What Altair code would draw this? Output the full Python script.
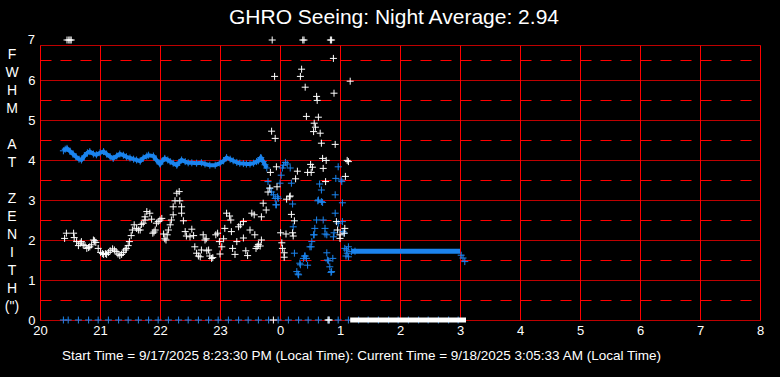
import altair as alt
import pandas as pd

# ---- data (hours; values after midnight are +24) ----
white_x = [20.41, 20.44, 20.56, 20.57, 20.61, 20.64, 20.67, 20.69, 20.72, 20.75, 20.78, 20.81, 20.83,
           20.86, 20.89, 20.91, 20.93, 20.97, 21.01, 21.04, 21.06, 21.09, 21.11, 21.14, 21.17, 21.21,
           21.24, 21.27, 21.30, 21.33, 21.36, 21.39, 21.42, 21.44, 21.47, 21.49, 21.52, 21.54, 21.57,
           21.61, 21.64, 21.67, 21.69, 21.72, 21.75, 21.75, 21.78, 21.83, 21.86, 21.88, 21.90, 21.92,
           21.94, 21.97, 22.00, 22.03, 22.06, 22.08, 22.10, 22.12, 22.14, 22.17, 22.19, 22.22, 22.22,
           22.25, 22.28, 22.32, 22.33, 22.36, 22.36, 22.39, 22.42, 22.44, 22.50, 22.53, 22.56, 22.58,
           22.61, 22.64, 22.67, 22.69, 22.72, 22.75, 22.77, 22.78, 22.81, 22.83, 22.86, 22.88, 22.93,
           22.96, 22.99, 23.00, 23.03, 23.06, 23.08, 23.11, 23.16, 23.18, 23.19, 23.21, 23.25, 23.28,
           23.31, 23.34, 23.39, 23.39, 23.43, 23.46, 23.50, 23.53, 23.57, 23.58, 23.60, 23.62, 23.64,
           23.67, 23.69, 23.69, 23.72, 23.77, 23.80, 23.83, 23.84, 23.86, 23.91, 23.92, 23.94, 23.95,
           24.01, 24.03, 24.04, 24.07, 24.07, 24.10, 24.11, 24.16, 24.17, 24.19, 24.21, 24.22, 24.24,
           24.26, 24.29, 24.34, 24.36, 24.42, 24.44, 24.46, 24.51, 24.52, 24.54, 24.56, 24.57, 24.59,
           24.61, 24.62, 24.64, 24.67, 24.69, 24.71, 24.72, 24.76, 24.77, 24.89, 24.90, 24.92, 24.94,
           24.96, 25.00, 25.00, 25.07, 25.08, 25.09, 25.12, 25.14, 25.17,
           20.45, 20.48, 20.50, 20.52, 23.87, 24.38, 24.40, 24.84, 24.86,
           23.89, 24.80, 24.82]
white_y = [2.04, 2.17, 2.17, 2.06, 1.96, 1.86, 1.92, 1.96, 1.88, 1.86, 1.79, 1.81, 1.83,
           1.88, 2.00, 1.98, 1.94, 1.79, 1.69, 1.66, 1.64, 1.66, 1.64, 1.69, 1.73, 1.78,
           1.75, 1.71, 1.65, 1.61, 1.64, 1.69, 1.75, 1.79, 1.86, 1.96, 2.11, 2.25, 2.38,
           2.29, 2.25, 2.25, 2.39, 2.42, 2.50, 2.58, 2.71, 2.67, 2.52, 2.17, 2.20, 2.25,
           2.42, 2.46, 2.50, 2.54, 2.15, 2.03, 2.00, 2.13, 2.25, 2.38, 2.50, 2.63, 2.83,
           2.98, 3.17, 3.21, 2.98, 2.83, 2.67, 2.48, 2.21, 2.10, 2.08, 2.27, 2.11, 1.83,
           1.67, 1.60, 1.58, 1.75, 2.13, 2.00, 2.03, 1.73, 1.75, 1.60, 1.54, 1.56, 2.13,
           2.17, 1.96, 1.65, 1.83, 2.03, 2.29, 2.67, 2.60, 2.50, 2.21, 1.79, 1.64, 1.96,
           2.33, 2.38, 2.46, 2.05, 1.73, 1.61, 2.25, 2.67, 2.63, 2.13, 1.79, 1.84, 1.89,
           1.85, 2.00, 2.58, 2.92, 2.75, 3.20, 3.30, 3.69, 4.72, 6.09, 4.54, 3.83, 3.33,
           2.18, 1.93, 1.79, 1.68, 1.57, 2.15, 3.02, 3.08, 3.10, 2.64, 2.18, 2.10, 2.48,
           3.53, 3.72, 6.09, 6.27, 5.82, 5.09, 3.69, 3.89, 3.69, 3.82, 4.71, 4.92, 4.82,
           5.59, 5.49, 5.07, 4.67, 4.42, 4.04, 3.79, 3.46, 3.99, 6.54, 5.67, 4.39, 2.46,
           2.25, 2.13, 2.04, 2.17, 2.29, 3.59, 3.99, 3.96, 5.97,
           7, 7, 7, 7, 7, 7, 7, 7, 7,
           0, 0, 0]

white_flat_x = [25.17, 27.10]
white_flat_y = [0, 0]

blue_band_x = [20.39, 20.42, 20.45, 20.50, 20.55, 20.60, 20.65, 20.69, 20.74, 20.79, 20.83, 20.89,
               20.94, 21.00, 21.06, 21.11, 21.17, 21.22, 21.28, 21.33, 21.39, 21.44, 21.50, 21.56,
               21.61, 21.67, 21.72, 21.78, 21.81, 21.89, 21.94, 22.00, 22.04, 22.08, 22.13, 22.17,
               22.22, 22.28, 22.32, 22.36, 22.42, 22.47, 22.53, 22.61, 22.69, 22.75, 22.83, 22.92,
               23.00, 23.06, 23.11, 23.17, 23.22, 23.28, 23.33, 23.39, 23.44, 23.50, 23.56, 23.61,
               23.64, 23.68, 23.72, 23.75, 23.78]
blue_band_y = [4.23, 4.27, 4.29, 4.22, 4.15, 4.08, 4.02, 4.00, 4.10, 4.18, 4.21, 4.15,
               4.13, 4.18, 4.21, 4.15, 4.08, 4.04, 4.10, 4.15, 4.12, 4.08, 4.05, 4.02,
               4.00, 3.97, 4.05, 4.10, 4.12, 4.10, 4.00, 3.90, 3.98, 4.04, 4.00, 3.96,
               3.92, 3.87, 3.94, 4.00, 3.96, 3.93, 3.93, 3.92, 3.93, 3.90, 3.87, 3.87,
               3.92, 3.98, 4.06, 4.02, 3.98, 3.94, 3.92, 3.91, 3.90, 3.90, 3.92, 3.96,
               3.98, 4.06, 3.96, 3.88, 3.80]

blue_x = [23.80, 23.83, 23.86, 23.89, 23.92, 23.93, 23.94, 23.96, 23.97, 24.00, 24.02, 24.04, 24.06,
          24.09, 24.12, 24.17, 24.19, 24.21, 24.22, 24.24, 24.28, 24.30, 24.31, 24.33, 24.34, 24.39,
          24.41, 24.42, 24.44, 24.46, 24.50, 24.52, 24.53, 24.56, 24.57, 24.58, 24.61, 24.63, 24.64,
          24.66, 24.69, 24.69, 24.71, 24.72, 24.75, 24.75, 24.78, 24.78, 24.79, 24.81, 24.83, 24.85,
          24.86, 24.88, 24.89, 24.90, 24.92, 24.92, 24.93, 24.97, 24.97, 25.02, 25.03, 25.04, 25.04,
          25.05, 25.07, 25.08, 25.10, 25.11, 25.12, 25.14, 25.14, 25.19, 25.25,
          27.02, 27.05, 27.08,
          20.39, 20.47, 20.64, 20.81, 20.97, 21.14, 21.31, 21.47, 21.64, 21.81, 21.97, 22.14,
          22.31, 22.47, 22.64, 22.81, 22.97, 23.14, 23.31, 23.47, 23.64, 23.81, 23.97, 24.14,
          24.31, 24.47, 24.64, 24.81, 24.97, 25.14, 25.31, 25.47, 25.64, 25.81, 25.97, 26.14,
          26.31, 26.47, 26.64, 26.81, 26.97]
blue_y = [3.46, 3.29, 3.20, 3.13, 3.04, 2.88, 2.88, 3.08, 3.04, 3.42, 3.62, 3.80, 3.87,
          3.94, 3.90, 3.80, 3.42, 2.90, 2.33, 1.67, 1.21, 1.15, 1.13, 1.42, 1.38, 1.54,
          1.60, 1.60, 1.54, 1.37, 1.83, 1.83, 1.96, 2.13, 2.13, 2.29, 2.50, 2.98, 3.00,
          3.40, 3.25, 2.96, 2.94, 2.50, 2.29, 2.15, 2.13, 1.68, 1.50, 1.48, 1.33, 1.19,
          1.21, 1.54, 2.08, 2.18, 2.67, 3.13, 3.54, 2.42, 3.83, 3.50, 3.46, 2.93, 2.46,
          2.21, 2.17, 1.79, 1.60, 1.75, 1.67, 1.58, 1.83, 1.71, 1.72,
          1.62, 1.55, 1.46,
          0, 0, 0, 0, 0, 0, 0, 0, 0, 0, 0, 0,
          0, 0, 0, 0, 0, 0, 0, 0, 0, 0, 0, 0,
          0, 0, 0, 0, 0, 0, 0, 0, 0, 0, 0, 0,
          0, 0, 0, 0, 0]

blue_flat_x = [25.20, 27.00]
blue_flat_y = [1.72, 1.72]

x_ticks = list(range(20, 33))
y_ticks = [0, 0.5, 1, 1.5, 2, 2.5, 3, 3.5, 4, 4.5, 5, 5.5, 6, 6.5, 6.875]
y_top_label = [7]

title_text = "GHRO Seeing: Night Average: 2.94"
bottom_text = ("Start Time = 9/17/2025 8:23:30 PM (Local Time): "
               "Current Time = 9/18/2025 3:05:33 AM (Local Time)")
y_title = ["F", "W", "H", "M", "\u200b", "A", "T", "\u200b", "Z", "E", "N", "I", "T", "H", "(\")"]

# ---- chart ----
FONT = "Liberation Sans"
BLUE = "#1b84ee"
RED = "#ff0000"
PLUS = "M-1,0L1,0M0,-1L0,1"

xs = alt.Scale(domain=[20, 32], nice=False, zero=False)
ys = alt.Scale(domain=[0, 6.875], nice=False, zero=False)

x_axis = alt.Axis(
    values=x_ticks, labelExpr="toString(datum.value % 24)", grid=True, gridColor=RED,
    gridWidth=1, ticks=False, domain=False, labelColor="white", labelFontSize=13,
    labelFont=FONT, labelPadding=4, labelFlush=False, labelOverlap=False,
    title=bottom_text, titleX=321, titleY=39, titleBaseline="alphabetic", titleAlign="center",
    titleFontSize=13.5, titleFontWeight="normal", titleColor="white", titleFont=FONT,
)
y_axis = alt.Axis(
    values=y_ticks, labelExpr="datum.value % 1 === 0 ? toString(datum.value) : ''", grid=True,
    gridColor=RED, gridWidth=1,
    gridDash={"condition": {"test": "datum.value % 1 === 0.5", "value": [11, 9]}, "value": [1, 0]},
    ticks=False, domain=False, labelColor="white", labelFontSize=13, labelFont=FONT,
    labelPadding=5, labelOverlap=False, labelFlush=False,
    title=y_title, titleAngle=0, titleX=-28.5, titleY=2, titleAlign="center",
    titleBaseline="top", titleLineHeight=18, titleFontSize=14, titleFontWeight="normal",
    titleColor="white", titleFont=FONT,
)

X = alt.X("t:Q", scale=xs, axis=x_axis)
Y = alt.Y("v:Q", scale=ys, axis=y_axis)

band_df = pd.DataFrame({"t": blue_band_x, "v": blue_band_y})
blue_df = pd.DataFrame({"t": blue_x, "v": blue_y})
bflat_df = pd.DataFrame({"t": blue_flat_x, "v": blue_flat_y})
white_df = pd.DataFrame({"t": white_x, "v": white_y})
wflat_df = pd.DataFrame({"t": white_flat_x, "v": white_flat_y})
top_df = pd.DataFrame({"v": y_top_label})


def plus_layer(df, color):
    return alt.Chart(df).mark_point(shape=PLUS, filled=False, color=color, strokeWidth=1,
                                    size=49, opacity=1).encode(x=X, y=Y)


band_line = alt.Chart(band_df).mark_line(color=BLUE, strokeWidth=4).encode(x=X, y=Y)
bflat = alt.Chart(bflat_df).mark_line(color=BLUE, strokeWidth=5).encode(x=X, y=Y)
wflat = alt.Chart(wflat_df).mark_line(color="white", strokeWidth=5).encode(x=X, y=Y)
top_label = alt.Chart(top_df).mark_text(
    align="right", baseline="middle", dx=-5, color="white", fontSize=13, font=FONT
).encode(y=Y, x=alt.value(0), text=alt.Text("v:Q", format="d"))

chart = alt.layer(
    band_line, plus_layer(band_df, BLUE), bflat, plus_layer(blue_df, BLUE),
    plus_layer(white_df, "white"), wflat, top_label,
).properties(
    width=720, height=275,
    title=alt.TitleParams(title_text, color="white", fontSize=21, font=FONT, fontWeight="normal",
                          anchor="middle", offset=5, dx=-6, dy=16, baseline="alphabetic"),
    autosize=alt.AutoSizeParams(type="none"),
    padding={"left": 40, "top": 45, "right": 20, "bottom": 57},
    background="black",
).configure_view(stroke=None)

chart.save("out.html", embed_options={"renderer": "svg", "actions": False})
